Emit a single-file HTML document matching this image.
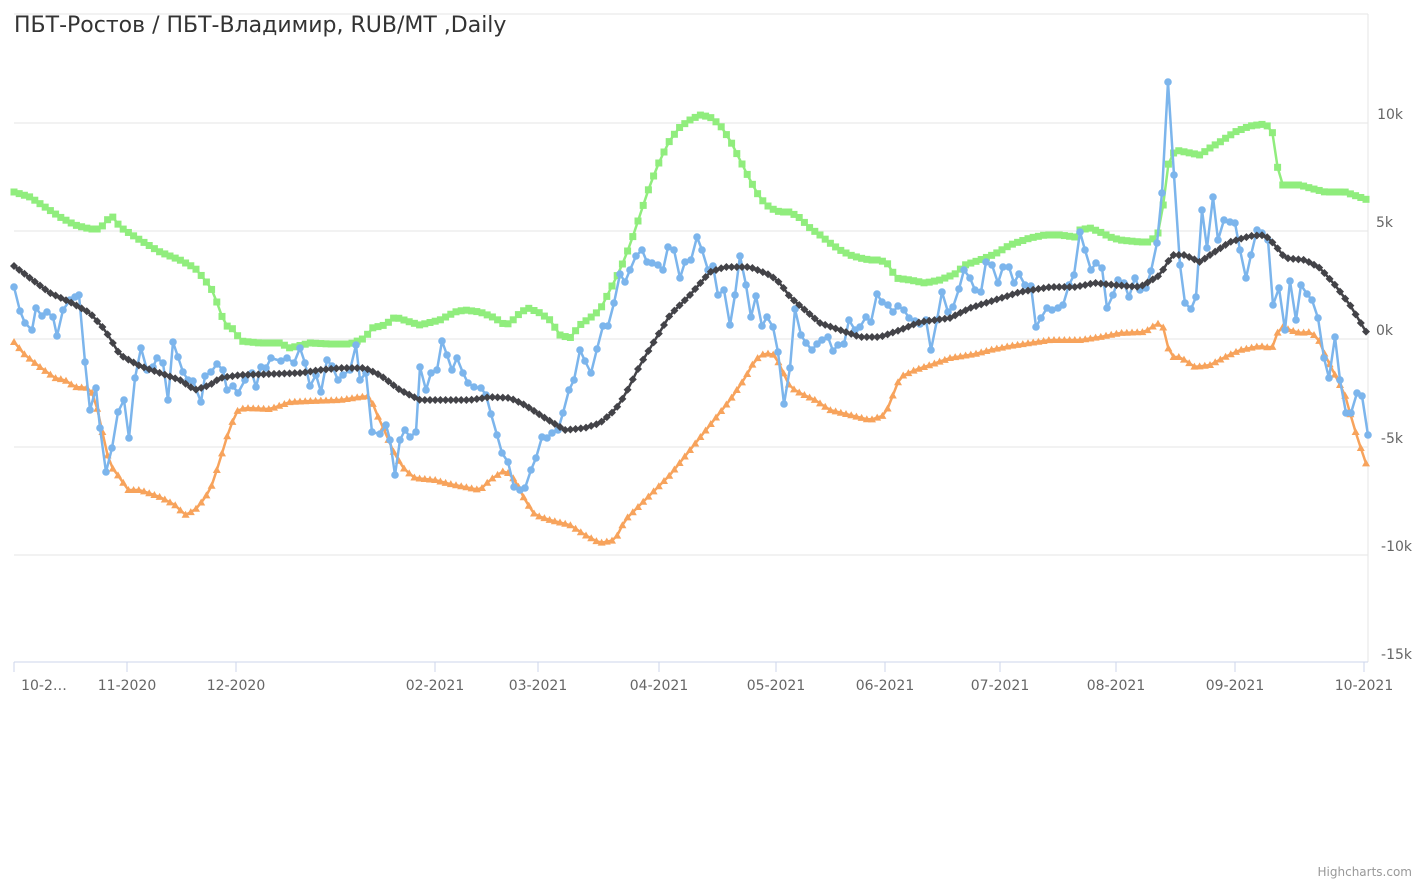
<!DOCTYPE html>
<html><head><meta charset="utf-8"><style>
body{margin:0;background:#fff;}
svg{display:block;font-family:"DejaVu Sans","Liberation Sans",sans-serif;}
</style></head><body>
<svg id="c" width="1427" height="883" xmlns="http://www.w3.org/2000/svg">
<rect width="1427" height="883" fill="#fff"/>
<g stroke="#e6e6e6" stroke-width="1">
<line x1="14" y1="14" x2="1368" y2="14"/>
<line x1="14" y1="123" x2="1368" y2="123"/>
<line x1="14" y1="231" x2="1368" y2="231"/>
<line x1="14" y1="339" x2="1368" y2="339"/>
<line x1="14" y1="447" x2="1368" y2="447"/>
<line x1="14" y1="555" x2="1368" y2="555"/>
<line x1="1368" y1="14" x2="1368" y2="662"/>
</g>
<line x1="14" y1="662" x2="1368" y2="662" stroke="#ccd6eb"/>
<g stroke="#ccd6eb">
<line x1="14" y1="662" x2="14" y2="672"/><line x1="127" y1="662" x2="127" y2="672"/><line x1="236" y1="662" x2="236" y2="672"/><line x1="435" y1="662" x2="435" y2="672"/><line x1="538" y1="662" x2="538" y2="672"/><line x1="659" y1="662" x2="659" y2="672"/><line x1="776" y1="662" x2="776" y2="672"/><line x1="885" y1="662" x2="885" y2="672"/><line x1="1000" y1="662" x2="1000" y2="672"/><line x1="1116" y1="662" x2="1116" y2="672"/><line x1="1235" y1="662" x2="1235" y2="672"/><line x1="1364" y1="662" x2="1364" y2="672"/>
</g>
<g fill="#666" font-size="14" text-anchor="middle">
<text x="44" y="690">10-2…</text><text x="127" y="690">11-2020</text><text x="236" y="690">12-2020</text><text x="435" y="690">02-2021</text><text x="538" y="690">03-2021</text><text x="659" y="690">04-2021</text><text x="776" y="690">05-2021</text><text x="885" y="690">06-2021</text><text x="1000" y="690">07-2021</text><text x="1116" y="690">08-2021</text><text x="1235" y="690">09-2021</text><text x="1364" y="690">10-2021</text>
</g>
<g fill="#666" font-size="14" text-anchor="end">
<text x="1403" y="119">10k</text><text x="1393" y="227">5k</text><text x="1393" y="335">0k</text><text x="1403" y="443">-5k</text><text x="1412" y="551">-10k</text><text x="1412" y="659">-15k</text>
</g>
<text x="14" y="32" font-size="22" fill="#333">ПБТ-Ростов / ПБТ-Владимир, RUB/MT ,Daily</text>
<text x="1412" y="876" font-size="12" fill="#999" text-anchor="end">Highcharts.com</text>
<g id="series"></g>
</svg>
<script>
var G=[[14,192],[30,197],[45,207],[60,217],[75,225],[90,229],[100,229],[107,220],[113,217],[120,227],[140,240],[160,252],[180,260],[195,268],[205,280],[212,290],[218,305],[225,325],[235,330],[240,341],[260,343],[280,343],[290,348],[310,343],[330,344],[350,344],[365,338],[372,328],[385,325],[395,317],[410,322],[420,325],[440,320],[455,312],[465,310],[480,312],[495,318],[505,325],[510,323],[520,313],[528,308],[540,313],[550,320],[560,335],[570,338],[580,325],[590,318],[600,310],[610,290],[620,270],[630,245],[640,215],[650,185],[660,160],[670,140],[680,127],[690,120],[700,115],[710,117],[720,125],[730,140],[740,160],[750,180],[760,198],[770,208],[780,212],[790,212],[800,218],[810,228],[820,235],[830,243],[840,250],[850,255],[860,258],[870,260],[880,260],[890,265],[895,278],[910,280],[925,283],[940,280],[955,274],[965,265],[980,260],[995,254],[1010,245],[1030,238],[1045,235],[1060,235],[1075,237],[1080,230],[1090,228],[1100,232],[1110,237],[1120,240],[1140,242],[1150,242],[1158,233],[1162,215],[1168,165],[1175,150],[1190,153],[1200,155],[1210,148],[1220,142],[1235,132],[1250,126],[1265,124],[1272,130],[1278,170],[1282,185],[1300,185],[1310,188],[1325,192],[1345,192],[1368,200]];
var O=[[14,342],[25,355],[40,367],[55,378],[65,380],[75,387],[90,388],[95,400],[100,420],[105,445],[110,465],[120,478],[128,490],[140,490],[160,497],[175,505],[185,515],[195,510],[205,498],[212,485],[220,460],[230,427],[238,410],[245,408],[270,409],[290,402],[310,401],[340,400],[360,397],[370,396],[375,410],[385,432],[395,455],[405,470],[415,478],[435,480],[450,484],[470,488],[480,490],[490,480],[505,470],[515,480],[525,500],[535,515],[550,520],[570,525],[585,535],[600,543],[615,540],[625,520],[640,505],[655,490],[670,475],[690,450],[710,425],[730,400],[745,378],[755,360],[765,353],[775,355],[782,370],[790,387],[800,393],[815,400],[830,410],[850,415],[870,420],[885,415],[895,390],[900,377],[915,370],[930,365],[950,358],[975,354],[990,350],[1010,346],[1030,343],[1050,340],[1080,340],[1100,337],[1120,333],[1145,332],[1155,325],[1160,323],[1165,330],[1170,357],[1180,357],[1195,367],[1210,365],[1225,357],[1240,350],[1260,346],[1272,348],[1280,326],[1290,330],[1300,333],[1310,332],[1318,338],[1325,355],[1335,375],[1345,395],[1352,420],[1358,440],[1365,460],[1368,470]];
var D=[[14,266],[30,278],[50,293],[70,302],[90,313],[105,330],[120,355],[140,366],[160,373],[180,380],[195,390],[210,385],[220,378],[240,375],[270,374],[300,373],[320,370],[340,368],[365,368],[380,375],[400,390],[420,400],[450,400],[470,400],[490,397],[510,398],[525,405],[545,418],[565,430],[585,428],[600,423],[615,410],[625,395],[640,365],[655,340],[670,315],[690,295],[710,272],[725,267],[750,267],[770,275],[780,283],[790,297],[805,310],[820,323],[840,330],[860,337],[880,337],[900,330],[920,322],[950,318],[970,308],[995,300],[1020,292],[1050,287],[1075,287],[1095,283],[1115,285],[1140,287],[1160,275],[1172,255],[1185,255],[1200,262],[1210,255],[1230,242],[1250,236],[1265,235],[1275,245],[1285,258],[1305,260],[1320,268],[1335,285],[1350,305],[1368,335]];
var B=[[14,287],[20,311],[25,323],[32,330],[36,308],[42,316],[47,312],[53,317],[57,336],[63,310],[70,300],[75,297],[79,295],[85,362],[90,410],[96,388],[100,428],[106,472],[112,448],[118,412],[124,400],[129,438],[135,378],[141,348],[147,370],[153,367],[157,358],[163,363],[168,400],[173,342],[178,357],[183,372],[188,380],[193,381],[201,402],[205,376],[211,372],[217,364],[223,370],[227,390],[233,386],[238,393],[245,380],[252,373],[256,387],[261,367],[266,368],[271,358],[281,361],[287,358],[294,363],[300,348],[305,363],[310,386],[316,375],[321,392],[327,360],[332,366],[338,380],[343,375],[350,370],[356,345],[360,380],[366,373],[372,432],[380,434],[386,425],[390,440],[395,475],[400,440],[405,430],[410,437],[416,432],[420,367],[426,390],[431,373],[437,370],[442,341],[447,355],[452,370],[457,358],[463,373],[468,383],[474,387],[481,388],[486,395],[491,414],[497,435],[502,453],[508,462],[514,487],[520,490],[525,488],[531,470],[536,458],[542,437],[547,438],[552,433],[558,430],[563,413],[569,390],[574,380],[580,350],[585,361],[591,373],[597,349],[603,326],[608,326],[614,303],[620,274],[625,282],[630,270],[636,256],[642,250],[647,262],[652,263],[658,265],[663,270],[668,247],[674,250],[680,278],[685,262],[691,260],[697,237],[702,250],[708,270],[713,266],[718,295],[724,290],[730,325],[735,295],[740,256],[746,285],[751,317],[756,296],[762,326],[767,317],[773,327],[778,352],[784,404],[790,368],[795,309],[801,335],[806,343],[812,350],[817,344],[822,340],[828,337],[833,351],[838,345],[844,344],[849,320],[855,330],[860,327],[866,317],[871,322],[877,294],[882,302],[888,305],[893,312],[898,306],[904,310],[909,318],[915,321],[920,324],[926,320],[931,350],[937,320],[942,292],[948,312],[953,307],[959,289],[964,270],[970,278],[975,290],[981,292],[986,262],[992,265],[998,283],[1003,267],[1009,267],[1014,283],[1019,274],[1025,285],[1031,286],[1036,327],[1041,318],[1047,308],[1052,310],[1058,308],[1063,305],[1069,285],[1074,275],[1080,232],[1085,250],[1091,270],[1096,263],[1102,268],[1107,308],[1113,295],[1118,280],[1124,283],[1129,297],[1135,278],[1140,290],[1146,288],[1151,271],[1157,243],[1162,193],[1168,82],[1174,175],[1180,265],[1185,303],[1191,309],[1196,297],[1202,210],[1207,248],[1213,197],[1218,240],[1224,220],[1230,222],[1235,223],[1240,250],[1246,278],[1251,255],[1257,230],[1262,233],[1268,240],[1273,305],[1279,288],[1285,330],[1290,281],[1296,320],[1301,285],[1307,294],[1312,300],[1318,318],[1324,358],[1329,378],[1335,337],[1340,380],[1346,413],[1351,413],[1357,393],[1362,396],[1368,435]];
function interp(P,step){var r=[];for(var x=14;x<=1368.01;x+=step){for(var i=0;i<P.length-1;i++){if(x>=P[i][0]&&x<=P[i+1][0]){var t=(x-P[i][0])/(P[i+1][0]-P[i][0]);r.push([x,P[i][1]+t*(P[i+1][1]-P[i][1])]);break;}}}return r;}
var out='';
function line(P,c){out+='<polyline fill="none" stroke="'+c+'" stroke-width="2.5" stroke-linejoin="round" points="'+P.map(function(p){return p[0].toFixed(1)+','+p[1].toFixed(1)}).join(' ')+'"/>';}
var g=interp(G,5.2),o=interp(O,5.2),d=interp(D,5.2);
line(g,'#90ed7d');g.forEach(function(p){out+='<rect x="'+(p[0]-3.5)+'" y="'+(p[1]-3.5)+'" width="7" height="7" fill="#90ed7d"/>';});
line(o,'#f7a35c');o.forEach(function(p){out+='<path d="M'+p[0]+','+(p[1]-4)+'L'+(p[0]+4)+','+(p[1]+3)+'L'+(p[0]-4)+','+(p[1]+3)+'Z" fill="#f7a35c"/>';});
line(B,'#7cb5ec');B.forEach(function(p){out+='<circle cx="'+p[0]+'" cy="'+p[1]+'" r="3.8" fill="#7cb5ec"/>';});
line(d,'#434348');d.forEach(function(p){out+='<path d="M'+p[0]+','+(p[1]-4)+'L'+(p[0]+4)+','+p[1]+'L'+p[0]+','+(p[1]+4)+'L'+(p[0]-4)+','+p[1]+'Z" fill="#434348"/>';});
document.getElementById('series').innerHTML=out;
</script>
</body></html>
